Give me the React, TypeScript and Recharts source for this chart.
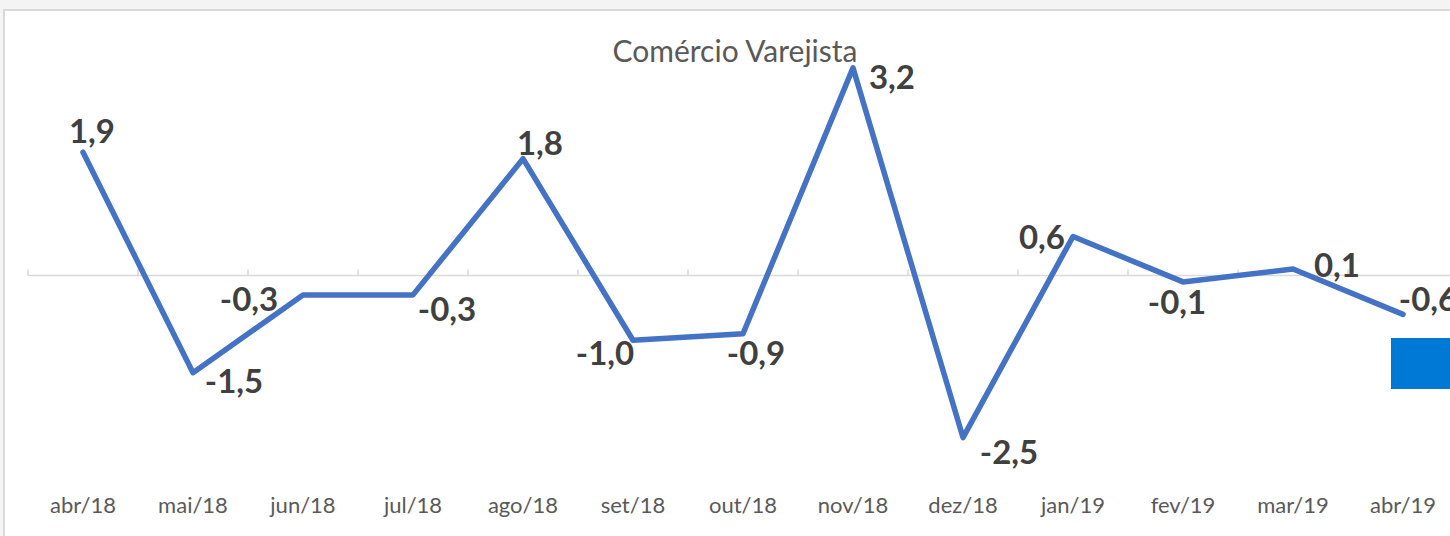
import React from "react";
import {
  ComposedChart,
  Line,
  XAxis,
  YAxis,
  ReferenceLine,
  LabelList,
} from "recharts";

const months = [
  "abr/18",
  "mai/18",
  "jun/18",
  "jul/18",
  "ago/18",
  "set/18",
  "out/18",
  "nov/18",
  "dez/18",
  "jan/19",
  "fev/19",
  "mar/19",
  "abr/19",
];

const varejo = [1.9, -1.5, -0.3, -0.3, 1.8, -1.0, -0.9, 3.2, -2.5, 0.6, -0.1, 0.1, -0.6];

// where each data label sits relative to its point (like Excel's manual placement)
const labelShift: [number, number][] = [
  [9, -22],
  [41, 7],
  [-54, 3],
  [34, 13],
  [17, -17],
  [-28, 12],
  [13, 18],
  [39, 8],
  [46, 13],
  [-31, -1],
  [-6, 19],
  [44, -5],
  [25, -16],
];

const data = months.map((m, i) => ({ month: m, valor: varejo[i] }));

const fmt = (v: number) => v.toFixed(1).replace(".", ",");

const DataLabel = (props: any) => {
  const { x, y, value, index } = props;
  const [dx, dy] = labelShift[index] || [0, -20];
  return (
    <text
      x={x + dx}
      y={y + dy}
      textAnchor="middle"
      dominantBaseline="central"
      fill="#404040"
      fontFamily="Lato, 'Open Sans', sans-serif"
      fontWeight={700}
      fontSize={33}
    >
      {fmt(value)}
    </text>
  );
};

// zero line with Excel-style tick marks between categories
const ZeroAxis = (props: any) => {
  const { x1, x2, y1 } = props;
  const step = (x2 - x1) / months.length;
  return (
    <g>
      <line x1={x1} x2={x2} y1={y1} y2={y1} stroke="#d9d9d9" strokeWidth={1.5} />
      {months.map((m, i) => (
        <line
          key={m}
          x1={x1 + i * step}
          x2={x1 + i * step}
          y1={y1}
          y2={y1 - 6}
          stroke="#d9d9d9"
          strokeWidth={1.5}
        />
      ))}
    </g>
  );
};

export default function App() {
  return (
    <div
      style={{
        position: "fixed",
        left: 0,
        top: 0,
        width: 1450,
        height: 536,
        overflow: "hidden",
        background: "#f4f4f4",
      }}
    >
      <div
        style={{
          position: "absolute",
          left: 3,
          top: 9,
          width: 1500,
          height: 560,
          background: "#fff",
          borderLeft: "2px solid #d9d9d9",
          borderTop: "2px solid #d9d9d9",
        }}
      />
      <div
        style={{
          position: "absolute",
          left: 735,
          top: 32,
          transform: "translateX(-50%)",
          whiteSpace: "nowrap",
          fontFamily: "Lato, 'Open Sans', sans-serif",
          fontSize: 30,
          color: "#595959",
        }}
      >
        Comércio Varejista
      </div>
      <div style={{ position: "absolute", left: 0, top: 0 }}>
        <ComposedChart
          width={1470}
          height={536}
          data={data}
          margin={{ top: 16, right: 12, left: 28, bottom: 6 }}
        >
          <YAxis hide domain={[-3, 4]} />
          <XAxis
            dataKey="month"
            scale="band"
            axisLine={false}
            tickLine={false}
            tickSize={0}
            tickMargin={27}
            height={60}
            interval={0}
            tick={{
              fill: "#595959",
              fontSize: 22,
              fontFamily: "Lato, 'Open Sans', sans-serif",
            }}
          />
          <ReferenceLine y={0} shape={<ZeroAxis />} />
          <Line
            dataKey="valor"
            type="linear"
            stroke="#4472C4"
            strokeWidth={5.5}
            strokeLinecap="round"
            strokeLinejoin="round"
            dot={false}
            isAnimationActive={false}
          >
            <LabelList dataKey="valor" content={<DataLabel />} />
          </Line>
        </ComposedChart>
      </div>
      <div
        style={{
          position: "absolute",
          left: 1391,
          top: 338,
          width: 70,
          height: 51,
          background: "#0079D6",
        }}
      />
    </div>
  );
}
